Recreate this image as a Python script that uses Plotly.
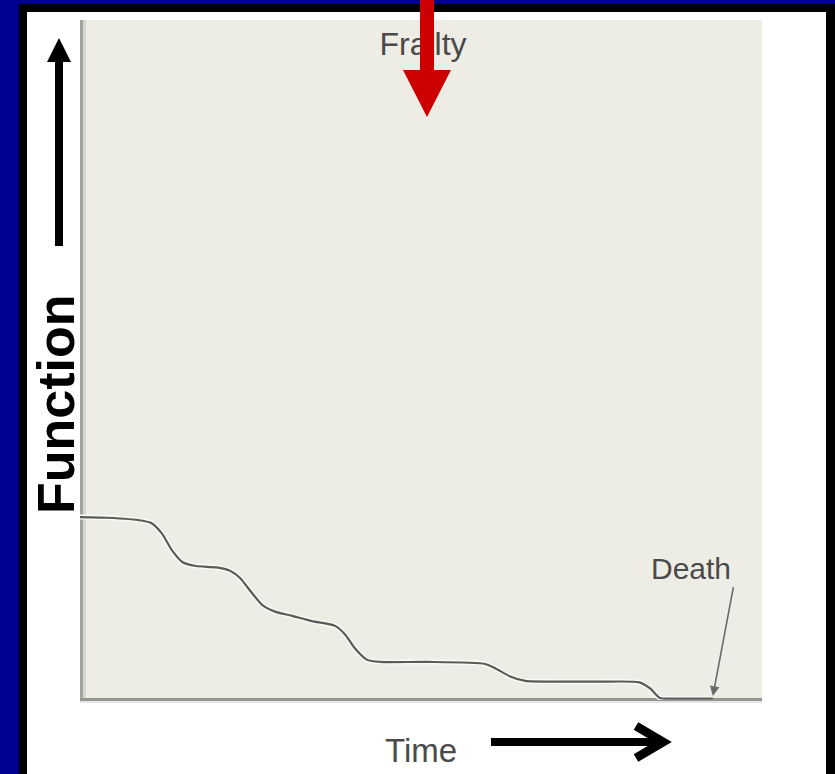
import plotly.graph_objects as go

# Decline of function over time (arbitrary units, 0-100 on both axes)
time = [0, 4, 9, 10.5, 12, 13.5, 15, 17, 20, 22, 23.5, 25, 26.7, 28.6, 31, 34,
        37.4, 38.9, 40.3, 42.1, 44, 51, 59.4, 61, 63, 65.3, 70, 76, 82, 83.6,
        85, 87, 92.8]
function = [26.9, 26.8, 26.4, 26.0, 24.5, 22.0, 20.3, 19.7, 19.5, 19.0, 17.9,
            16.0, 14.0, 13.0, 12.4, 11.6, 10.9, 9.6, 7.6, 5.9, 5.6, 5.6, 5.3,
            4.6, 3.5, 2.8, 2.7, 2.7, 2.6, 1.7, 0.3, 0.2, 0.2]

# Label texts and their anchor points in data units
frailty_label = ("Frailty", 50.3, 96.0)
death_label = ("Death", 95.8, 16.6)     # text tail
death_point = (92.8, 0.6)               # arrow head
y_title = "Function"
x_title = "Time"

W, H = 835, 774
PLOT_L, PLOT_R, PLOT_T, PLOT_B = 80, 762, 20, 700


def px(x):
    return x / W


def py(y):
    return 1 - y / H


def rect(x0, y0, x1, y1, color):
    return dict(type="rect", xref="paper", yref="paper", layer="below",
                x0=px(x0), x1=px(x1), y0=py(y1), y1=py(y0),
                fillcolor=color, line=dict(width=0))


def path(points, color, closed=True, width=0):
    d = "M " + " L ".join(f"{px(x):.5f},{py(y):.5f}" for x, y in points)
    if closed:
        d += " Z"
        return dict(type="path", xref="paper", yref="paper", path=d,
                    fillcolor=color, line=dict(width=0))
    return dict(type="path", xref="paper", yref="paper", path=d,
                line=dict(color=color, width=width))


fig = go.Figure()

# light halo under the curve
fig.add_trace(go.Scatter(x=time, y=function, mode="lines",
                         line=dict(color="#fbfbf5", width=5, shape="spline", smoothing=0.6),
                         hoverinfo="skip", showlegend=False))
fig.add_trace(go.Scatter(x=time, y=function, mode="lines",
                         line=dict(color="#5a5a58", width=2.2, shape="spline", smoothing=0.6),
                         showlegend=False))
fig.add_trace(go.Scatter(x=[frailty_label[1]], y=[frailty_label[2]], mode="text",
                         text=[frailty_label[0]],
                         textfont=dict(family="Liberation Sans, Arial", size=32, color="#4a4a4a"),
                         cliponaxis=False, showlegend=False, hoverinfo="skip"))

shapes = [
    # slide frame
    rect(19, 4, W, H, "#000000"),
    rect(27, 12, 826, H, "#ffffff"),
    # plot panel
    rect(PLOT_L, PLOT_T, PLOT_R, PLOT_B, "#edede6"),
    rect(PLOT_L, PLOT_T, PLOT_L + 3, PLOT_B, "#a2a4a0"),
    rect(PLOT_L + 3, PLOT_T, PLOT_L + 6, PLOT_B, "#d6d7d0"),
    rect(PLOT_L, PLOT_B - 2, PLOT_R, PLOT_B + 1, "#94968f"),
    rect(PLOT_L, PLOT_B + 1, PLOT_R, PLOT_B + 3, "#e4e6e8"),
    # red arrow
    path([(420, 0), (434, 0), (434, 70), (451, 70), (427, 117), (403, 70), (420, 70)], "#cc0000"),
    # upward arrow beside the y title
    path([(55, 246), (63, 246), (63, 62), (71, 62), (59, 38), (47, 62), (55, 62)], "#000000"),
    # rightward arrow beside the x title
    rect(491, 738, 660, 746, "#000000") | dict(layer="above"),
    path([(636, 726), (663, 742), (636, 758)], "#000000", closed=False, width=9),
]

annotations = [
    dict(text=f"<b>{y_title}</b>", xref="paper", yref="paper", x=px(56), y=py(404),
         xanchor="center", yanchor="middle", textangle=-90, showarrow=False,
         font=dict(family="Liberation Sans, Arial", size=52, color="#000000")),
    dict(text=x_title, xref="paper", yref="paper", x=px(421), y=py(750),
         xanchor="center", yanchor="middle", showarrow=False,
         font=dict(family="Liberation Sans, Arial", size=33, color="#4a4a4a")),
    dict(text=death_label[0], x=death_point[0], y=death_point[1],
         ax=death_label[1], ay=death_label[2], axref="x", ayref="y",
         xanchor="right", yanchor="bottom", showarrow=True,
         arrowhead=2, arrowsize=1.2, arrowwidth=1.6, arrowcolor="#6a6a6a",
         font=dict(family="Liberation Sans, Arial", size=30, color="#4a4a4a")),
]

fig.update_layout(
    width=W, height=H,
    margin=dict(l=0, r=0, t=0, b=0),
    paper_bgcolor="#000090",
    plot_bgcolor="rgba(0,0,0,0)",
    shapes=shapes,
    annotations=annotations,
    xaxis=dict(domain=[px(PLOT_L), px(PLOT_R)], range=[0, 100], visible=False, fixedrange=True),
    yaxis=dict(domain=[py(PLOT_B), py(PLOT_T)], range=[0, 100], visible=False, fixedrange=True),
)

fig.write_html("out.html")
